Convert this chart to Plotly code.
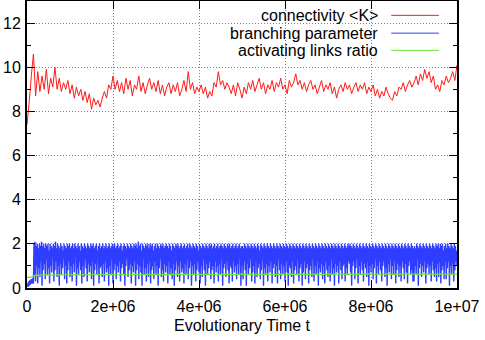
import numpy as np
import plotly.graph_objects as go

# connectivity <K>, sampled every 5e4 steps
connectivity = [
    7.4, 8.4, 9.6, 10.6, 8.7, 9.8, 8.9, 9.6, 9.0, 9.9, 8.8, 9.5, 9.1, 10.0, 9.0, 9.5, 8.9, 9.3, 9.0, 9.4,
    8.8, 9.2, 8.6, 9.1, 8.7, 9.0, 8.5, 8.9, 8.4, 8.8, 8.1, 8.6, 8.3, 8.5, 8.2, 8.6, 8.9, 8.6, 9.2, 9.0,
    9.6, 9.0, 9.4, 8.9, 9.3, 8.8, 9.5, 9.0, 9.4, 8.7, 9.2, 9.0, 9.6, 8.9, 9.3, 8.8, 9.2, 9.5, 9.0, 9.3,
    8.9, 9.4, 8.8, 9.2, 8.7, 9.1, 9.3, 8.8, 9.2, 8.9, 9.3, 8.7, 9.0, 9.4, 8.9, 9.8, 9.0, 9.3, 8.8, 9.1,
    8.9, 9.2, 8.8, 9.1, 8.6, 8.9, 8.7, 9.3, 9.1, 9.8, 9.2, 9.4, 9.0, 9.3, 9.1, 8.8, 9.2, 8.7, 9.3, 9.0,
    8.6, 9.1, 8.8, 9.3, 9.0, 9.4, 8.9, 9.2, 9.5, 9.0, 9.3, 8.8, 9.2, 9.0, 9.4, 8.9, 9.3, 9.1, 9.5, 9.0,
    9.2, 8.8, 9.4, 9.1, 9.3, 9.7, 9.2, 9.4, 9.0, 9.3, 8.9, 9.2, 9.4, 9.0, 9.2, 8.8, 9.1, 9.4, 8.9, 9.2,
    9.0, 9.3, 8.8, 9.1, 8.6, 9.0, 9.2, 8.9, 9.3, 9.0, 9.2, 8.8, 9.1, 9.3, 8.9, 9.2, 9.0, 9.3, 8.8, 9.1,
    8.9, 9.2, 8.7, 9.0, 8.6, 8.9, 8.7, 9.1, 8.8, 8.6, 8.5, 8.9, 8.7, 9.1, 9.0, 9.3, 8.9, 9.2, 9.4, 9.1,
    9.3, 9.6, 9.2, 9.7, 9.4, 9.9, 9.5, 9.8, 9.3, 9.6, 9.0, 9.2, 8.9, 9.4, 9.2, 9.6, 9.3, 9.5, 9.8, 9.4,
    10.1,
]

# branching parameter, sampled every 1.25e4 steps
branching = [
    0.1, 0.2, 0.05, 0.3, 0.1, 0.35, 0.15, 0.25, 0.4, 0.2, 0.3, 0.45, 0.2, 2.0, 0.6, 2.1, 0.3, 1.9, 1.0, 2.0,
    0.2, 1.8, 0.9, 2.0, 0.5, 1.9, 1.2, 2.1, 0.1, 1.9, 0.8, 2.0, 1.1, 1.8, 0.4, 2.0, 1.3, 1.9, 0.6, 2.0,
    0.9, 1.7, 0.2, 2.0, 1.0, 1.9, 0.7, 1.8, 1.4, 2.0, 0.3, 1.9, 0.8, 2.1, 1.2, 1.8, 0.5, 2.0, 1.0, 1.9,
    0.1, 1.8, 1.1, 2.0, 0.6, 1.9, 0.9, 1.7, 1.3, 2.0, 0.4, 1.9, 1.0, 1.8, 0.2, 2.0, 0.8, 1.9, 1.2, 2.0,
    0.5, 1.8, 1.0, 1.9, 0.3, 2.0, 1.1, 1.8, 0.7, 2.0, 1.4, 1.9, 0.1, 1.8, 0.9, 2.0, 0.6, 1.9, 1.2, 1.7,
    0.8, 2.0, 0.2, 1.9, 1.0, 1.8, 0.5, 2.0, 1.3, 1.9, 0.9, 1.8, 0.3, 2.0, 1.1, 1.9, 0.7, 1.8, 1.0, 2.0,
    0.4, 1.9, 1.2, 2.0, 0.1, 1.8, 0.8, 1.9, 1.1, 2.0, 0.6, 1.7, 1.3, 1.9, 0.2, 2.0, 0.9, 1.8, 1.0, 1.9,
    0.5, 2.0, 1.1, 1.8, 0.3, 1.9, 1.2, 2.0, 0.7, 1.8, 0.9, 1.9, 0.1, 2.0, 1.0, 1.8, 0.6, 1.9, 1.3, 2.0,
    0.2, 1.9, 0.8, 2.0, 1.1, 1.8, 0.4, 1.9, 1.0, 2.0, 0.7, 1.8, 1.2, 1.9, 0.3, 2.0, 0.9, 1.7, 1.1, 1.9,
    0.6, 2.0, 0.1, 1.9, 1.0, 1.8, 1.3, 2.0, 0.5, 1.9, 0.8, 1.8, 1.1, 2.0, 0.2, 1.9, 1.0, 1.8, 0.7, 2.0,
    1.2, 1.9, 0.1, 2.0, 0.8, 1.8, 1.1, 2.1, 0.4, 1.9, 1.0, 2.0, 0.7, 1.7, 0.1, 2.0, 1.3, 1.9, 0.6, 1.8,
    0.9, 2.0, 0.3, 1.9, 1.1, 2.0, 0.5, 1.8, 1.2, 2.0, 0.2, 1.9, 0.8, 2.0, 1.0, 1.7, 0.4, 1.9, 1.2, 2.0,
    0.6, 1.8, 1.0, 2.0, 0.1, 1.9, 0.9, 1.8, 1.3, 2.0, 0.5, 1.9, 0.8, 2.0, 0.3, 1.8, 1.1, 1.9, 0.7, 2.0,
    1.0, 1.9, 0.2, 1.8, 1.2, 2.0, 0.6, 1.9, 0.9, 1.7, 0.4, 2.0, 1.1, 1.9, 0.1, 1.8, 0.8, 2.0, 1.2, 1.9,
    0.5, 2.0, 1.0, 1.8, 0.3, 1.9, 1.2, 2.0, 0.7, 1.8, 0.9, 1.9, 0.2, 2.0, 1.1, 1.8, 0.6, 1.9, 1.3, 2.0,
    0.4, 1.8, 0.9, 2.0, 1.2, 1.9, 0.1, 1.8, 1.0, 2.0, 0.6, 1.9, 1.1, 1.8, 0.3, 2.0, 0.8, 1.9, 1.2, 1.7,
    0.7, 2.0, 0.2, 1.9, 1.0, 1.8, 0.5, 2.0, 1.3, 1.9, 0.8, 1.8, 0.1, 2.0, 1.1, 1.9, 0.6, 1.8, 0.9, 2.0,
    1.2, 1.9, 0.4, 2.0, 0.8, 1.8, 1.0, 1.9, 0.2, 2.0, 1.2, 1.8, 0.7, 1.9, 1.0, 2.0, 0.3, 1.8, 1.1, 1.9,
    0.6, 2.0, 1.3, 1.9, 0.1, 1.8, 0.9, 2.0, 1.1, 1.9, 0.5, 1.8, 1.2, 2.0, 0.8, 1.9, 0.2, 2.0, 1.0, 1.8,
    0.9, 1.9, 0.3, 2.0, 1.2, 1.8, 0.7, 1.9, 1.0, 2.0, 0.4, 1.8, 1.1, 1.9, 0.6, 2.0, 1.3, 1.8, 0.1, 1.9,
    1.0, 1.9, 0.4, 1.8, 1.2, 2.0, 0.8, 1.9, 0.1, 1.8, 1.1, 2.0, 0.6, 1.9, 0.9, 1.8, 1.3, 2.0, 0.3, 1.9,
    0.7, 1.8, 1.0, 2.0, 0.2, 1.9, 1.2, 1.8, 0.5, 2.0, 0.9, 1.9, 1.1, 1.7, 0.4, 2.0, 0.8, 1.9, 1.3, 1.8,
    0.1, 2.0, 0.9, 1.9, 0.6, 1.8, 1.1, 2.0, 0.3, 1.9, 1.0, 1.8, 0.7, 2.0, 1.2, 1.9, 0.2, 1.8, 0.9, 2.0,
    1.1, 1.9, 0.5, 1.8, 1.0, 2.0, 0.2, 1.9, 1.3, 1.8, 0.8, 2.0, 0.4, 1.9, 1.1, 1.8, 0.6, 2.0, 1.0, 1.9,
    0.3, 1.8, 1.2, 2.0, 0.7, 1.9, 0.1, 1.8, 1.0, 2.0, 0.9, 1.9, 0.5, 1.8, 1.2, 2.0, 0.2, 1.9, 0.8, 1.8,
    1.0, 2.0, 0.6, 1.9, 1.3, 1.8, 0.3, 2.0, 0.9, 1.9, 1.1, 1.8, 0.1, 2.0, 0.7, 1.9, 1.2, 1.8, 0.4, 2.0,
    0.9, 1.9, 1.1, 1.8, 0.2, 2.0, 0.8, 1.9, 1.0, 1.8, 0.5, 2.0, 1.3, 1.9, 0.3, 1.8, 1.0, 2.0, 0.6, 1.9,
    1.2, 1.8, 0.1, 2.0, 0.9, 1.9, 0.7, 1.8, 1.1, 2.0, 0.4, 1.9, 1.0, 1.8, 0.2, 2.0, 1.2, 1.9, 0.8, 1.8,
    0.5, 2.0, 1.0, 1.9, 0.3, 1.8, 1.3, 2.0, 0.6, 1.9, 0.9, 1.8, 0.1, 2.0, 1.1, 1.9, 0.7, 1.8, 1.0, 2.0,
    0.2, 1.9, 1.2, 1.8, 0.8, 2.0, 0.4, 1.9, 1.0, 1.8, 1.1, 2.0, 0.3, 1.9, 0.9, 1.8, 0.6, 2.0, 1.2, 1.9,
    1.1, 2.0, 0.7, 1.9, 0.1, 1.8, 1.0, 2.0, 1.2, 1.9, 0.4, 1.8, 0.9, 2.0, 1.3, 1.9, 0.2, 1.8, 1.0, 2.0,
    0.6, 1.9, 1.2, 1.8, 0.8, 2.0, 0.3, 1.9, 1.1, 1.8, 0.9, 2.0, 0.5, 1.9, 1.2, 1.8, 0.1, 2.0, 1.0, 1.9,
    0.7, 1.8, 1.1, 2.0, 0.4, 1.9, 0.9, 1.8, 1.3, 2.0, 0.2, 1.9, 1.0, 1.8, 0.6, 2.0, 1.2, 1.9, 0.8, 1.8,
    0.3, 2.0, 1.0, 1.9, 1.2, 1.8, 0.5, 2.0, 0.9, 1.9, 0.1, 1.8, 1.1, 2.0, 0.7, 1.9, 1.3, 1.8, 0.4, 2.0,
    1.0, 1.9, 0.6, 1.8, 1.2, 2.0, 0.2, 1.9, 0.8, 1.8, 1.1, 2.0, 0.5, 1.9, 1.0, 1.8, 0.3, 2.0, 1.2, 1.9,
    0.9, 1.8, 0.4, 2.0, 1.1, 1.9, 0.7, 1.8, 0.2, 2.0, 1.0, 1.9, 1.2, 1.8, 0.6, 2.0, 0.8, 1.9, 0.3, 1.8,
    0.3, 1.9, 1.0, 1.8, 0.6, 2.0, 1.3, 1.9, 0.1, 1.8, 0.9, 2.0, 1.1, 1.9, 0.5, 1.8, 1.0, 2.0, 0.7, 1.9,
    1.2, 1.8, 0.2, 2.0, 0.9, 1.9, 1.1, 1.8, 0.6, 2.0, 1.0, 1.9, 0.3, 1.8, 1.2, 2.0, 0.8, 1.9, 0.5, 1.8,
    0.9, 2.0, 0.3, 1.9, 1.1, 2.0, 0.5, 1.8, 1.2, 2.0, 0.2, 1.9, 0.8, 2.0, 1.0, 1.7, 0.4, 1.9, 1.2, 2.0,
    0.4, 1.8, 0.9, 2.0, 1.2, 1.9, 0.1, 1.8, 1.0, 2.0, 0.6, 1.9, 1.1, 1.8, 0.3, 2.0, 0.8, 1.9, 1.2, 1.7,
    1.0,
]

# activating links ratio, sampled every 1e5 steps
activating = [
    0.48, 0.49, 0.58, 0.57, 0.59, 0.58, 0.59, 0.60, 0.59, 0.60, 0.60, 0.61, 0.59, 0.60, 0.61, 0.60, 0.61, 0.60, 0.61, 0.62,
    0.61, 0.60, 0.61, 0.62, 0.61, 0.62, 0.61, 0.60, 0.62, 0.61, 0.62, 0.61, 0.62, 0.61, 0.62, 0.63, 0.61, 0.62, 0.61, 0.62,
    0.62, 0.61, 0.63, 0.62, 0.61, 0.62, 0.63, 0.62, 0.61, 0.62, 0.63, 0.62, 0.62, 0.61, 0.63, 0.62, 0.63, 0.62, 0.61, 0.63,
    0.62, 0.63, 0.62, 0.63, 0.62, 0.61, 0.63, 0.62, 0.63, 0.62, 0.63, 0.62, 0.63, 0.64, 0.62, 0.63, 0.62, 0.63, 0.62, 0.63,
    0.64, 0.63, 0.62, 0.63, 0.64, 0.63, 0.62, 0.63, 0.64, 0.63, 0.63, 0.62, 0.63, 0.64, 0.63, 0.62, 0.64, 0.63, 0.64, 0.63,
    0.63,
]

series_names = ["connectivity <K>", "branching parameter", "activating links ratio"]
series_colors = ["#ff1a1a", "#2e3dff", "#66e633"]
series_widths = [1, 1.4, 1.2]

x_tickvals = [0, 2e6, 4e6, 6e6, 8e6, 1e7]
x_ticktext = ["0", "2e+06", "4e+06", "6e+06", "8e+06", "1e+07"]
y_tickvals = [0, 2, 4, 6, 8, 10, 12]

T_END = 1e7
font = dict(family="Liberation Sans, Arial, sans-serif", size=16, color="black")

fig = go.Figure()
for vals, name, col, w in zip([connectivity, branching, activating], series_names, series_colors, series_widths):
    t = np.linspace(0, T_END, len(vals))
    fig.add_trace(go.Scatter(x=t, y=vals, mode="lines", name=name,
                             line=dict(color=col, width=w, simplify=False), showlegend=False))

axis_common = dict(
    showline=True, linecolor="black", linewidth=2, mirror="ticks",
    ticks="inside", tickcolor="black", tickwidth=1,
    showgrid=True, gridcolor="#808080", griddash="1px,2px", gridwidth=1,
    zeroline=False, tickfont=font, automargin=False,
)

fig.update_xaxes(range=[0, T_END], tickvals=x_tickvals, ticktext=x_ticktext, ticklen=8,
                 ticklabelstandoff=3,
                 title=dict(text="Evolutionary Time t", font=font, standoff=6), **axis_common)
fig.update_yaxes(range=[0, 13], tickvals=y_tickvals, ticklen=8, ticklabelstandoff=1,
                 minor=dict(ticks="inside", dtick=1, ticklen=4, tickcolor="black", showgrid=False),
                 **axis_common)

# key box in the top right corner, text right aligned with the line samples after it
shapes = [dict(type="rect", xref="paper", yref="paper", x0=0.421, x1=1, y0=0.80, y1=1,
               fillcolor="white", line=dict(width=0), layer="between")]
annotations = []
rows_y = [0.950, 0.888, 0.828]
for name, col, yy in zip(series_names, series_colors, rows_y):
    annotations.append(dict(xref="paper", yref="paper", x=0.82, y=yy, text=name.replace("<", "&lt;").replace(">", "&gt;"),
                            showarrow=False, xanchor="right", yanchor="middle", font=font))
    shapes.append(dict(type="line", xref="paper", yref="paper", x0=0.847, x1=0.958, y0=yy, y1=yy,
                       line=dict(color=col, width=1)))

fig.update_layout(
    width=485, height=340,
    margin=dict(l=27, r=28, t=1, b=52, autoexpand=False),
    paper_bgcolor="white", plot_bgcolor="white",
    font=font, shapes=shapes, annotations=annotations,
)

# the page's default body margin would push the figure 8px off the window corner
fig.write_html("out.html", config={"displayModeBar": False},
               post_script="document.body.style.margin='0px';")
